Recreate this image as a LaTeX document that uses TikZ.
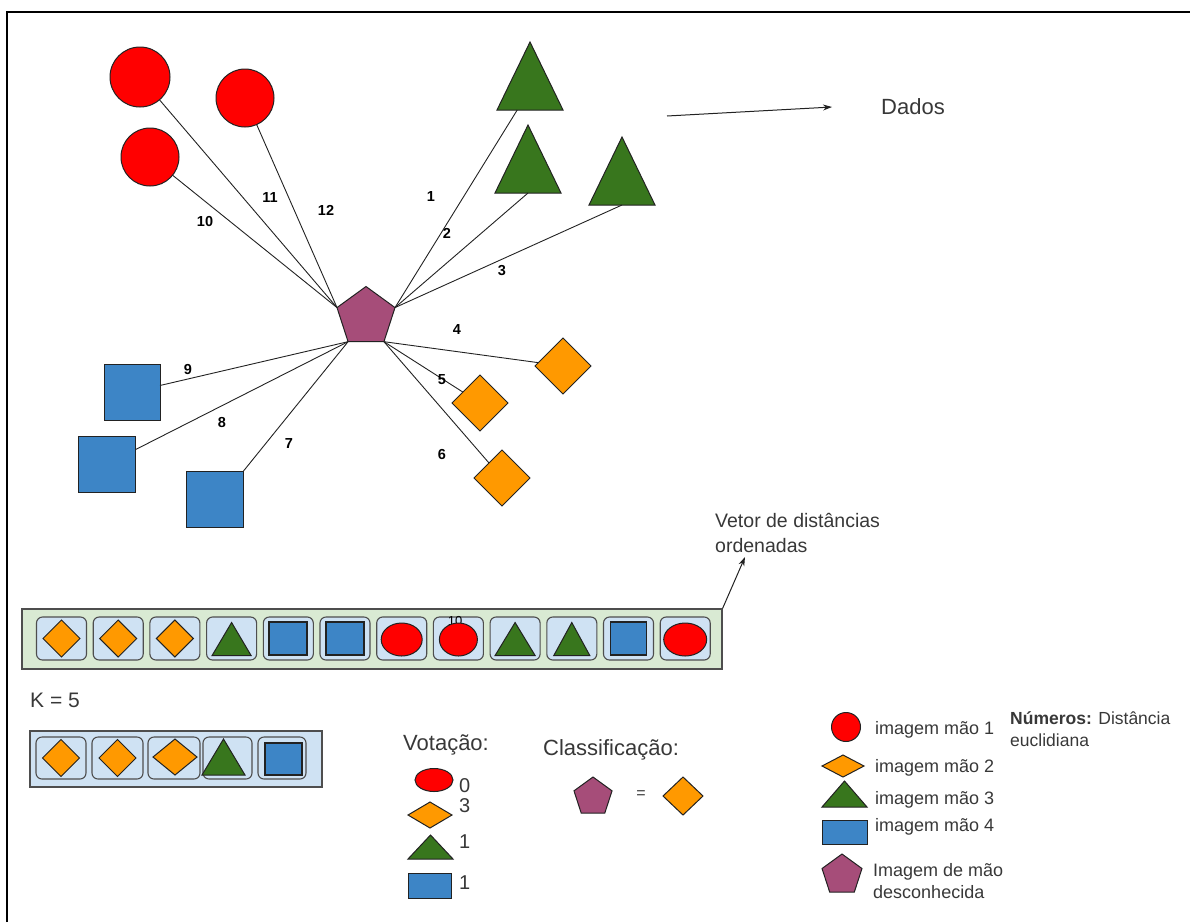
\documentclass[tikz,border=0pt]{standalone}
\usepackage{fontspec}
\setmainfont{Liberation Sans}
\usetikzlibrary{shapes.geometric,arrows.meta}
\definecolor{hred}{HTML}{FF0000}
\definecolor{horange}{HTML}{FF9900}
\definecolor{hgreen}{HTML}{38761D}
\definecolor{hblue}{HTML}{3D85C6}
\definecolor{hpurple}{HTML}{A64D79}
\definecolor{cellblue}{HTML}{CFE2F3}
\definecolor{boxgreen}{HTML}{D9EAD3}
\definecolor{ink}{HTML}{222222}
\newcommand{\fs}[1]{\fontsize{#1}{#1}\selectfont}
\begin{document}
\begin{tikzpicture}[x=1pt,y=-1pt,
  shp/.style={draw=ink, line width=1pt, inner sep=0pt, outer sep=0pt},
  circ/.style={shp, circle, fill=hred, minimum size=#1},
  ell/.style args={#1x#2}{shp, ellipse, fill=hred, minimum width=#1, minimum height=#2},
  dia/.style args={#1x#2}{shp, diamond, fill=horange, minimum width=#1, minimum height=#2},
  tri/.style args={#1x#2}{shp, isosceles triangle, isosceles triangle stretches,
      shape border rotate=90, fill=hgreen, minimum width=#1, minimum height=#2, anchor=apex},
  sqr/.style args={#1x#2}{shp, rectangle, fill=hblue, minimum width=#1, minimum height=#2},
  sqrk/.style args={#1x#2}{sqr=#1x#2, line width=1.8pt},
  pent/.style={shp, regular polygon, regular polygon sides=5, fill=hpurple, minimum size=#1},
  cell/.style={draw=ink!80, line width=1.1pt, rounded corners=6pt, fill=cellblue,
      minimum width=50, minimum height=43, inner sep=0pt},
  link/.style={draw=ink, line width=0.9pt},
  num/.style={font=\bfseries\fs{14.5}, inner sep=0pt},
  txt/.style={font=\fs{#1}, inner sep=0pt, text=ink!90},
  ltxt/.style={font=\fs{#1}, inner sep=0pt, anchor=west, text=ink!90},
  arr/.style={draw=ink, line width=1pt, -{Stealth[length=9pt,width=6pt]}}
]
\useasboundingbox (0,0) rectangle (1190,922);
% frame
\draw[line width=2pt, black] (7,922) -- (7,12) -- (1190,12);

% unknown sample
\node[pent=61] (p) at (366,317) {};

% class 1: circles
\node[circ=60] (c1) at (140,77) {};
\node[circ=58] (c2) at (245,98) {};
\node[circ=58] (c3) at (150,157) {};
% class 3: triangles
\node[tri=66x68] (t1) at (530,42) {};
\node[tri=66x68] (t2) at (528,125) {};
\node[tri=66x68] (t3) at (622,137) {};
% class 2: diamonds
\node[dia=56x56] (d1) at (563,366) {};
\node[dia=56x56] (d2) at (480,403) {};
\node[dia=56x56] (d3) at (502,478) {};
% class 4: squares
\node[sqr=56x56] (s1) at (132,392) {};
\node[sqr=57x56] (s2) at (107,464) {};
\node[sqr=57x56] (s3) at (215,499) {};

% distances
\draw[link] (p.corner 2) -- (c3);
\draw[link] (p.corner 2) -- (c1);
\draw[link] (p.corner 2) -- (c2);
\draw[link] (p.corner 5) -- (t1);
\draw[link] (p.corner 5) -- (t2.lower side);
\draw[link] (p.corner 5) -- (t3.lower side);
\draw[link] (p.corner 4) -- (d1);
\draw[link] (p.corner 4) -- (d2);
\draw[link] (p.corner 4) -- (d3);
\draw[link] (p.corner 3) -- (s1);
\draw[link] (p.corner 3) -- (s2);
\draw[link] (p.corner 3) -- (s3.north east);

\node[num] (n10) at (205,222) {10};
\node[num] (n11) at (270,198) {11};
\node[num] (n12) at (326,210) {12};
\node[num] (n1) at (431,197) {1};
\node[num] (n2) at (447,233) {2};
\node[num] (n3) at (502,271) {3};
\node[num] (n4) at (457,330) {4};
\node[num] (n5) at (442,380) {5};
\node[num] (n6) at (442,454) {6};
\node[num] (n9) at (188,369) {9};
\node[num] (n8) at (222,422) {8};
\node[num] (n7) at (289,443) {7};

% data arrow
\coordinate (da) at (667,116);
\node[txt=22] (dados) at (913,107) {Dados};
\coordinate (db) at (832,107);
\draw[arr] (da) -- (db);

% sorted distance vector
\node[draw=ink!80, line width=1.2pt, fill=boxgreen, minimum width=700, minimum height=60,
      inner sep=0pt] (vec) at (372,639) {};
\foreach \i in {1,...,12}{
  \node[cell] (v\i) at ({61.5+56.7*(\i-1)},638.5) {};
}
\node[dia=37x37] (v1s) at (v1) {};
\node[dia=37x37] (v2s) at (v2) {};
\node[dia=37x37] (v3s) at (v3) {};
\node[tri=39x33] (v4s) at ([yshift=16]v4.center) {};
\node[sqrk=38x33] (v5s) at (v5) {};
\node[sqrk=38x33] (v6s) at (v6) {};
\node[ell=41x33] (v7s) at ([yshift=-1]v7.center) {};
\node[font=\fs{13}, inner sep=0pt] (v8n) at (455,621) {10};
\node[ell=38x33] (v8s) at ([yshift=-1]v8.center) {};
\node[tri=40x33] (v9s) at ([yshift=16]v9.center) {};
\node[tri=36x33] (v10s) at ([yshift=16]v10.center) {};
\node[sqrk=36x33] (v11s) at (v11) {};
\node[ell=43x33] (v12s) at ([yshift=-1]v12.center) {};

\node[ltxt=19.5] (vt1) at (715,520) {Vetor de distâncias};
\node[ltxt=19.5] (vt2) at (715,546) {ordenadas};
\coordinate (vb) at (745,557);
\draw[arr] (vec.north east) -- (vb);

% k nearest
\node[ltxt=21] (k) at (30,700) {K = 5};
\node[draw=ink!80, line width=1.2pt, fill=cellblue, minimum width=292, minimum height=56,
      inner sep=0pt] (kbox) at (176,759) {};
\node[cell, minimum height=42] (k1) at (61,758) {};
\node[cell, minimum height=42, minimum width=51] (k2) at (117.5,758) {};
\node[cell, minimum height=42, minimum width=52] (k3) at (174,758) {};
\node[cell, minimum height=42, minimum width=49] (k4) at (227.5,758) {};
\node[cell, minimum height=42, minimum width=48] (k5) at (282,758) {};
\node[dia=37x37] (k1s) at (k1) {};
\node[dia=37x37] (k2s) at (k2) {};
\node[dia=44x36] (k3s) at (175,757) {};
\node[tri=43x36] (k4s) at (223.5,739) {};
\node[sqrk=37x32] (k5s) at (283.5,759) {};

% voting
\node[ltxt=22] (vot) at (403,745) {Votação:};
\node[ell=38x23] (vo1) at (434,780) {};
\node[dia=44x26] (vo2) at (430,815) {};
\node[tri=45x24] (vo3) at (430.5,835) {};
\node[sqr=43x25] (vo4) at (429.5,885.5) {};
\node[ltxt=20] (vn1) at (459,786) {0};
\node[ltxt=20] (vn2) at (459,806) {3};
\node[ltxt=20] (vn3) at (459,842) {1};
\node[ltxt=20] (vn4) at (459,883) {1};

% result
\node[ltxt=22] (cls) at (543,750) {Classificação:};
\node[pent=40] (cp) at (593,797) {};
\node[txt=16] (eq) at (641,795) {=};
\node[dia=40x38] (cd) at (683,796) {};

% legend
\node[circ=29] (l1) at (846,727) {};
\node[dia=42x22] (l2) at (843,766) {};
\node[tri=45x26] (l3) at (844.5,781) {};
\node[sqr=45x24] (l4) at (844.5,832) {};
\node[pent=42] (l5) at (842,875) {};
\node[ltxt=18] (lt1) at (875,730) {imagem mão 1};
\node[ltxt=18] (lt2) at (875,768) {imagem mão 2};
\node[ltxt=18] (lt3) at (875,800) {imagem mão 3};
\node[ltxt=18] (lt4) at (875,827) {imagem mão 4};
\node[ltxt=18] (lt5) at (873,872) {Imagem de mão};
\node[ltxt=18] (lt6) at (873,892) {desconhecida};
\node[ltxt=17.5] (ln1) at (1010,718) {\textbf{Números:} Distância};
\node[ltxt=17.5] (ln2) at (1010,740) {euclidiana};
\end{tikzpicture}
\end{document}
